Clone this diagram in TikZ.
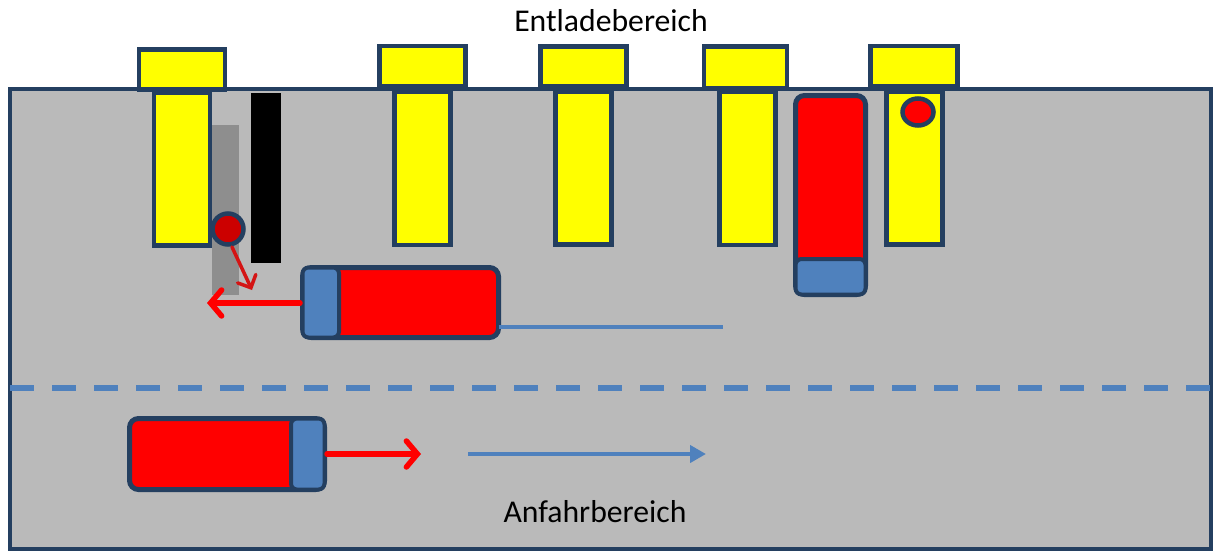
\documentclass[tikz,border=0pt]{standalone}
\usepackage{fontspec}
\setmainfont{Carlito}
\usetikzlibrary{arrows.meta}
\definecolor{navy}{HTML}{243F60}
\definecolor{bggray}{HTML}{BABABA}
\definecolor{stripgray}{HTML}{8E8E8E}
\definecolor{ofblue}{HTML}{4F81BD}
\definecolor{ylw}{HTML}{FFFF00}
\definecolor{rd}{HTML}{FF0000}
\definecolor{darkrd}{HTML}{CC0000}
\definecolor{arrowrd}{HTML}{D41414}
\tikzset{
  dockbox/.style={draw=navy, line width=4.5pt, fill=ylw, inner sep=0pt, outer sep=0pt},
  dockcap/.style={dockbox, minimum width=86pt, minimum height=40pt},
  dockstem/.style={dockbox, minimum width=56pt, minimum height=153pt},
  truckbody/.style={draw=navy, line width=5pt, fill=rd, rounded corners=9pt},
  truckcab/.style={draw=navy, line width=4pt, fill=ofblue, rounded corners=6pt},
  redmove/.style={draw=rd, line width=5.5pt, line cap=round, -{Straight Barb[length=11pt,width=26pt,line cap=round]}},
  redsmall/.style={draw=arrowrd, line width=3.5pt, line cap=round, -{Straight Barb[length=10pt,width=20pt,line cap=round]}},
  bluepath/.style={draw=ofblue, line width=4.5pt},
  lbl/.style={font=\fontsize{31.7}{38}\selectfont, anchor=base, inner sep=0pt},
}
\begin{document}
\begin{tikzpicture}[x=1pt, y=-1pt]
\useasboundingbox (0,0) rectangle (1214,552);
% area
\draw[draw=navy, line width=4pt, fill=bggray] (10,89) rectangle (1211,549);
% dashed lane divider
\draw[ofblue, line width=5.5pt, dash pattern=on 24pt off 18pt] (10,388) -- (1211,388);
% docks
\node[dockcap] (cap1) at (182,69.5) {};
\node[dockstem] (stem1) at (182,169) {};
\node[dockcap] (cap2) at (422.5,66) {};
\node[dockstem] (stem2) at (422.5,168.5) {};
\node[dockcap] (cap3) at (583.5,66.5) {};
\node[dockstem] (stem3) at (583.5,168) {};
\node[dockcap, minimum width=83pt, minimum height=41.5pt] (cap4) at (745.5,67) {};
\node[dockstem] (stem4) at (747.5,168.5) {};
\node[dockcap, minimum width=87pt] (cap5) at (914,66) {};
\node[dockstem] (stem5) at (914.5,168) {};
% barrier and shadow
\fill[stripgray] (212,125) rectangle (239,295);
\fill[black] (251,93) rectangle (281,263);
% dots
\filldraw[navy, line width=4.5pt, fill=darkrd] (228,229) circle [radius=15.5pt];
\filldraw[navy, line width=4.5pt, fill=rd] (918,112) ellipse [x radius=15.5pt, y radius=13.5pt];
% vertical truck in dock
\draw[truckbody] (795.5,95.5) rectangle (865.5,294.5);
\draw[truckcab] (795.5,259) rectangle (865.5,294.5);
% truck 1 (leaving)
\draw[truckbody] (302.5,267.5) rectangle (498.5,337.5);
\draw[truckcab] (302.5,267.5) rectangle (339,337.5);
\coordinate (t1rear) at (498.5,327);
\coordinate (t1end) at (723,327);
\draw[bluepath] (t1rear) -- (t1end);
\coordinate (t1front) at (300,303);
\coordinate (t1tip) at (207,303);
\draw[redmove] (t1front) -- (t1tip);
\coordinate (d1a) at (232,247);
\coordinate (d1b) at (252,290);
\draw[redsmall] (d1a) -- (d1b);
% truck 2 (arriving)
\draw[truckbody] (129.5,418.5) rectangle (324.5,489.5);
\draw[truckcab] (291,418.5) rectangle (324.5,489.5);
\coordinate (t2front) at (327,454);
\coordinate (t2tip) at (421,454);
\draw[redmove] (t2front) -- (t2tip);
\coordinate (b2s) at (468,454);
\coordinate (b2e) at (706,454);
\draw[bluepath, -{Triangle[length=16pt,width=17pt]}] (b2s) -- (b2e);
% labels
\node[lbl] (top) at (611,31) {Entladebereich};
\node[lbl] (bottom) at (595,522) {Anfahrbereich};
\end{tikzpicture}
\end{document}
